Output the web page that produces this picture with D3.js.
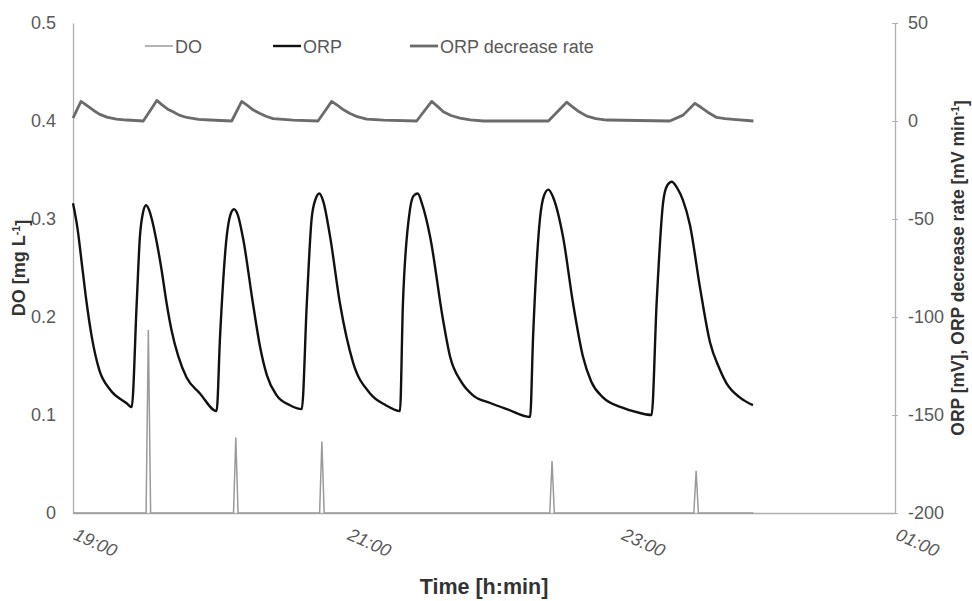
<html>
<head>
<meta charset="UTF-8">
<title>DO / ORP</title>
<script src="https://cdnjs.cloudflare.com/ajax/libs/d3/7.8.5/d3.min.js"></script>
<style>
  body { margin: 0; background: #fff; }
  svg { font-family: "Liberation Sans", Arial, sans-serif; }
  .tick-lbl { fill: #595959; font-size: 18px; }
  .ax-title { fill: #333; font-weight: bold; }
</style>
</head>
<body>
<div id="chart"></div>
<script>
// minutes after 19:00
var orpTime = [0, 2, 4.2, 6, 8.2, 11.5, 16.2, 23.5, 25.7,
  27.9, 29.3, 30.6, 32, 33.5, 34.5, 36.7, 38.8, 41, 43.2, 46.1, 49.8, 55.6, 62.9,
  64.4, 67.3, 68.9, 70.5, 72.2, 74.5, 78.8, 81.9, 85, 89.2, 95, 100.2,
  102.4, 104.5, 106.2, 107.9, 109.6, 112.6, 116.9, 122.6, 130.1, 137, 143.2,
  144.5, 147.6, 149.3, 151, 152.8, 156.4, 162, 165.1, 170, 175.2, 183, 190, 200.2,
  201.5, 204.5, 206.3, 208.2, 210.3, 214.6, 219, 223.3, 227, 232.1, 240, 248.3, 253.4,
  255.6, 258.4, 260.2, 262.2, 264.5, 267, 270.2, 274.6, 279, 283, 286.3, 292, 297.8];
var orpValue = [-42, -55, -76, -93, -110, -127, -137, -144, -146,
  -93, -59, -47, -43, -46, -50, -62, -76, -93, -107, -120, -131, -139, -148,
  -110, -59, -48, -45, -48, -60, -93, -115, -130, -140, -145, -147,
  -93, -50, -40, -37, -41, -59, -93, -123, -139, -145, -148,
  -93, -45, -38, -37, -42, -59, -101, -120, -133, -140, -144, -147, -151,
  -110, -50, -38, -35, -39, -59, -93, -120, -133, -141, -146, -149, -150,
  -93, -42, -33, -31, -34, -40, -53, -85, -113, -126, -134, -141, -145];

var rateTime = [0, 3.5, 6, 8.9, 11.5, 14.8, 19, 23.5, 30.8,
  36.7, 39, 41.5, 43.8, 46.5, 49.8, 55, 60, 69.5,
  73.9, 76.5, 79, 81.9, 84.5, 87.6, 96.4, 107.3,
  113.3, 116, 118.5, 121.3, 124.5, 128.6, 136, 150.5,
  157.1, 159.5, 162.2, 165.5, 169.5, 174, 179.7, 208.2,
  216.2, 218.5, 221.5, 225, 229, 233.7, 261.4,
  267.2, 272.4, 275, 278, 281.9, 285.5, 289.2, 298];
var rateValue = [1.5, 10, 8, 5.5, 3.5, 2, 1, 0.5, 0,
  10.5, 8.2, 6, 4.7, 3, 1.8, 0.8, 0.5, 0,
  10, 7.8, 5.6, 3.8, 2.4, 1.2, 0.4, 0,
  10, 7.8, 5.7, 3.8, 2.2, 1, 0.4, 0,
  10, 7.6, 4.7, 2.8, 1.5, 0.6, 0, 0,
  9.6, 7.5, 4.8, 2.5, 1.2, 0.5, 0,
  3, 9, 7, 4.5, 1.8, 1.2, 0.8, 0];

var doTime = [0, 32, 33, 34, 70.3, 71.3, 72.3, 108, 109, 110, 208.8, 209.8, 210.8, 271.9, 272.9, 273.9, 298];
var doValue = [0, 0, 0.187, 0, 0, 0.077, 0, 0, 0.073, 0, 0, 0.053, 0, 0, 0.043, 0, 0];

var leftTicks = [0, 0.1, 0.2, 0.3, 0.4, 0.5];
var rightTicks = [-200, -150, -100, -50, 0, 50];
var timeTicks = [0, 120, 240, 360];
var timeLabels = ["19:00", "21:00", "23:00", "01:00"];

var seriesNames = ["DO", "ORP", "ORP decrease rate"];
var seriesColors = ["#9a9a9a", "#111111", "#6b6b6b"];
var seriesWidths = [1.5, 2.4, 2.8];

var width = 972, height = 601;
var margin = {left: 73, right: 77, top: 23, bottom: 88};

var svg = d3.select("#chart").append("svg")
  .attr("width", width)
  .attr("height", height);

var x = d3.scaleLinear().domain([0, 360]).range([margin.left, width - margin.right]);
var yDO = d3.scaleLinear().domain([0, 0.5]).range([height - margin.bottom, margin.top]);
var yR = d3.scaleLinear().domain([-200, 50]).range([height - margin.bottom, margin.top]);

// axes
var leftAxis = svg.append("g")
  .attr("transform", "translate(" + margin.left + ",0)")
  .call(d3.axisLeft(yDO).tickValues(leftTicks).tickSize(0).tickPadding(17)
    .tickFormat(function(d) { return d === 0 ? "0" : d3.format(".1f")(d); }));

var rightAxis = svg.append("g")
  .attr("transform", "translate(" + (width - margin.right) + ",0)")
  .call(d3.axisRight(yR).tickValues(rightTicks).tickSizeInner(4).tickSizeOuter(0).tickPadding(9)
    .tickFormat(function(d) { return String(d); }));
rightAxis.selectAll(".tick line").attr("x1", -3).attr("x2", 3);

var bottomAxis = svg.append("g")
  .attr("transform", "translate(0," + (height - margin.bottom) + ")")
  .call(d3.axisBottom(x).tickValues(timeTicks).tickSize(0).tickPadding(0)
    .tickFormat(function(d, i) { return timeLabels[i]; }));
bottomAxis.selectAll(".tick text")
  .attr("text-anchor", "start")
  .attr("font-style", "italic")
  .attr("dy", 0)
  .attr("transform", "translate(-1,26) rotate(24)");

[leftAxis, rightAxis, bottomAxis].forEach(function(a) {
  a.select(".domain").attr("stroke", "#b0b0b0").attr("stroke-width", 1.3);
  a.selectAll(".tick line").attr("stroke", "#b0b0b0");
  a.selectAll(".tick text").attr("class", "tick-lbl").attr("font-family", null).attr("font-size", null);
});

// lines
var doLine = d3.line()
  .x(function(d, i) { return x(doTime[i]); })
  .y(function(d) { return yDO(d); });

var orpLine = d3.line()
  .curve(d3.curveMonotoneX)
  .x(function(d, i) { return x(orpTime[i]); })
  .y(function(d) { return yR(d); });

var rateLine = d3.line()
  .x(function(d, i) { return x(rateTime[i]); })
  .y(function(d) { return yR(d); });

svg.append("path").datum(rateValue)
  .attr("d", rateLine).attr("fill", "none")
  .attr("stroke", seriesColors[2]).attr("stroke-width", seriesWidths[2])
  .attr("stroke-linejoin", "round");

svg.append("path").datum(orpValue)
  .attr("d", orpLine).attr("fill", "none")
  .attr("stroke", seriesColors[1]).attr("stroke-width", seriesWidths[1]);

svg.append("path").datum(doValue)
  .attr("d", doLine).attr("fill", "none")
  .attr("stroke", seriesColors[0]).attr("stroke-width", seriesWidths[0]);

// legend
var legendX = [145, 273, 410];
var legend = svg.append("g");
seriesNames.forEach(function(name, i) {
  legend.append("line")
    .attr("x1", legendX[i]).attr("x2", legendX[i] + 28)
    .attr("y1", 46).attr("y2", 46)
    .attr("stroke", seriesColors[i]).attr("stroke-width", seriesWidths[i]);
  legend.append("text")
    .attr("x", legendX[i] + 30).attr("y", 52.5)
    .attr("class", "tick-lbl")
    .text(name);
});

// axis titles
function superTitle(sel, main) {
  sel.text(main)
    .append("tspan").attr("font-size", "0.6em").attr("dy", "-0.45em").text("-1")
    .select(function() { return this.parentNode; })
    .append("tspan").attr("dy", "0.45em").text("]");
}

svg.append("text")
  .attr("class", "ax-title")
  .attr("transform", "translate(25," + yDO(0.25) + ") rotate(-90)")
  .attr("text-anchor", "middle")
  .attr("font-size", 18)
  .call(superTitle, "DO [mg L");

svg.append("text")
  .attr("class", "ax-title")
  .attr("transform", "translate(964," + yR(-75) + ") rotate(-90)")
  .attr("text-anchor", "middle")
  .attr("font-size", 17.5)
  .call(superTitle, "ORP [mV], ORP decrease rate [mV min");

svg.append("text")
  .attr("class", "ax-title")
  .attr("x", x(180)).attr("y", 594)
  .attr("text-anchor", "middle")
  .attr("font-size", 21.5)
  .text("Time [h:min]");
</script>
</body>
</html>
